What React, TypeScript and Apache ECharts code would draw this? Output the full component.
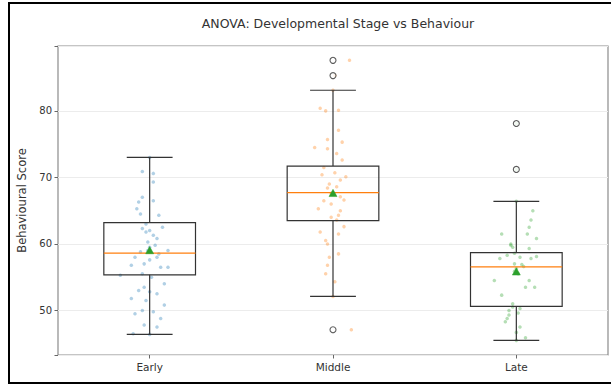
import React, { useEffect, useRef } from "react";
import * as echarts from "echarts";

const categories = ["Early", "Middle", "Late"];
const yTicks = [50, 60, 70, 80];

// box statistics: [min whisker, Q1, median, Q3, max whisker, mean]
const earlyStats = [46.4, 55.35, 58.6, 63.2, 73.0, 59.0];
const middleStats = [52.1, 63.5, 67.7, 71.7, 83.1, 67.6];
const lateStats = [45.5, 50.6, 56.55, 58.7, 66.4, 55.8];

// outliers: [category position, value]
const outliers = [
  [2, 87.6],
  [2, 85.3],
  [2, 47.1],
  [3, 78.1],
  [3, 71.2],
];

// jittered observations: [horizontal jitter, value]
const earlyPoints = [
  [-0.04, 70.9], [0.02, 70.6], [0.02, 69.3], [-0.04, 67.0], [-0.06, 66.3],
  [-0.07, 65.3], [-0.05, 64.5], [0.05, 64.3], [-0.04, 62.3], [0.0, 62.0],
  [0.02, 61.3], [0.04, 60.8], [0.0, 59.5], [-0.01, 59.0], [-0.08, 58.0],
  [0.04, 58.0], [0.1, 59.0], [-0.1, 56.8], [-0.03, 57.0], [0.06, 56.5],
  [0.1, 56.5], [-0.04, 55.5], [-0.16, 55.3], [-0.03, 53.5], [0.08, 54.0],
  [0.0, 52.8], [0.04, 52.5], [-0.1, 51.8], [0.08, 50.8], [-0.02, 51.5],
  [-0.04, 50.0], [-0.08, 49.5], [0.02, 49.8], [-0.03, 47.8], [0.04, 47.5],
  [-0.09, 46.5], [-0.02, 61.8], [0.03, 59.8], [-0.01, 60.3], [0.05, 58.5],
  [-0.05, 58.8], [0.0, 57.6], [0.07, 62.5], [-0.02, 63.0], [0.02, 66.5],
  [0.01, 55.0], [-0.06, 53.0], [0.06, 48.8], [0.0, 73.0], [0.0, 46.4],
];
const middlePoints = [
  [0.09, 87.6], [0.01, 85.3], [0.1, 47.1], [0.0, 83.1], [-0.07, 80.4],
  [-0.04, 80.0], [0.03, 80.1], [0.03, 77.1], [-0.03, 75.7], [-0.1, 74.5],
  [-0.03, 74.3], [0.05, 75.3], [0.02, 73.6], [0.05, 72.6], [-0.06, 70.4],
  [0.01, 70.7], [0.07, 70.1], [-0.03, 68.4], [0.02, 68.6], [0.04, 69.6],
  [-0.01, 67.6], [0.04, 67.1], [-0.05, 66.5], [-0.01, 66.0], [0.06, 66.6],
  [-0.08, 65.3], [0.04, 65.0], [0.03, 64.3], [-0.01, 64.0], [-0.07, 61.8],
  [0.03, 61.5], [-0.04, 60.5], [-0.03, 60.0], [0.03, 58.5], [-0.02, 58.0],
  [-0.03, 56.8], [-0.04, 55.5], [0.0, 52.1], [0.02, 63.6], [-0.05, 71.5],
  [0.06, 62.6], [-0.02, 69.0], [0.01, 54.3],
];
const latePoints = [
  [0.0, 78.1], [0.0, 71.2], [0.0, 66.4], [0.09, 65.0], [0.08, 63.6],
  [0.07, 62.5], [0.06, 61.5], [-0.08, 61.5], [0.11, 60.8], [-0.03, 60.0],
  [-0.02, 59.5], [0.07, 59.3], [-0.05, 58.3], [0.02, 58.0], [-0.09, 57.8],
  [0.08, 57.8], [0.11, 58.1], [-0.01, 57.0], [0.03, 56.9], [0.0, 56.3],
  [-0.01, 55.9], [0.01, 55.5], [0.07, 54.5], [-0.12, 54.5], [0.05, 53.5],
  [0.1, 53.5], [-0.08, 52.3], [-0.02, 50.5], [0.02, 50.3], [-0.04, 50.0],
  [-0.04, 49.3], [-0.05, 48.8], [-0.06, 48.3], [0.02, 47.5], [0.0, 46.7],
  [0.05, 45.9], [0.0, 45.5], [-0.03, 59.8], [0.04, 56.6], [-0.02, 51.0],
  [0.01, 49.6], [-0.01, 58.6],
];

const groupColors = ["#1f77b4", "#ff7f0e", "#2ca02c"];

export default function App() {
  const ref = useRef<HTMLDivElement>(null);

  useEffect(() => {
    if (!ref.current) return;
    const chart = echarts.init(ref.current, undefined, { renderer: "svg" });
    const allStats = [earlyStats, middleStats, lateStats];
    const boxData = allStats.map((s, i) => [i + 1, ...s]);
    const pointSets = [earlyPoints, middlePoints, latePoints];

    const stripSeries = pointSets.map((pts, i) => ({
      type: "scatter",
      xAxisIndex: 1,
      yAxisIndex: 0,
      symbol: "circle",
      symbolSize: 3.5,
      z: 2,
      itemStyle: { color: groupColors[i], opacity: 0.35 },
      data: pts.map((p) => [i + 1 + p[0], p[1]]),
    }));

    const option: any = {
      animation: false,
      backgroundColor: "#ffffff",
      title: {
        text: "ANOVA: Developmental Stage vs Behaviour",
        left: 333,
        textAlign: "center",
        top: 12,
        textStyle: {
          fontFamily: "DejaVu Sans",
          fontSize: 12.5,
          fontWeight: "normal",
          color: "#333",
        },
      },
      grid: {
        left: 58,
        right: 3,
        top: 46,
        bottom: 30,
        show: true,
        borderColor: "#8c8c8c",
        borderWidth: 1.2,
        backgroundColor: "transparent",
      },
      xAxis: [
        {
          type: "category",
          data: categories,
          boundaryGap: true,
          axisLine: { show: false },
          axisTick: {
            show: true,
            alignWithLabel: true,
            length: 3.5,
            lineStyle: { color: "#666" },
          },
          axisLabel: {
            fontFamily: "DejaVu Sans",
            fontSize: 10.5,
            color: "#333",
            margin: 6,
          },
          splitLine: { show: false },
        },
        {
          type: "value",
          min: 0.5,
          max: 3.5,
          show: false,
          splitLine: { show: false },
        },
      ],
      yAxis: {
        type: "value",
        min: 43.3,
        max: 89.75,
        name: "Behavioural Score",
        nameLocation: "middle",
        nameGap: 25,
        nameTextStyle: {
          fontFamily: "DejaVu Sans",
          fontSize: 11.5,
          color: "#333",
        },
        axisLine: { show: false },
        axisTick: { show: true, length: 3.5, lineStyle: { color: "#666" } },
        axisLabel: {
          fontFamily: "DejaVu Sans",
          fontSize: 10,
          color: "#333",
          margin: 6,
          formatter: (v: number) => (yTicks.includes(Math.round(v * 100) / 100) ? String(v) : ""),
        },
        splitLine: { show: true, lineStyle: { color: "#ececec", width: 1 } },
      },
      series: [
        ...stripSeries,
        {
          type: "custom",
          xAxisIndex: 1,
          yAxisIndex: 0,
          z: 5,
          data: boxData,
          encode: { x: 0, y: [1, 2, 3, 4, 5, 6] },
          renderItem: (params: any, api: any) => {
            const x = api.value(0);
            const halfBox = api.size([0.25, 0])[0];
            const halfCap = api.size([0.125, 0])[0];
            const c = (v: number) => api.coord([x, v]);
            const pMin = c(api.value(1));
            const pQ1 = c(api.value(2));
            const pMed = c(api.value(3));
            const pQ3 = c(api.value(4));
            const pMax = c(api.value(5));
            const pMean = c(api.value(6));
            const cx = pMed[0];
            const stroke = { stroke: "#333", lineWidth: 1.2, fill: "none" };
            const tri = 4;
            return {
              type: "group",
              children: [
                {
                  type: "line",
                  shape: { x1: cx, y1: pQ1[1], x2: cx, y2: pMin[1] },
                  style: stroke,
                },
                {
                  type: "line",
                  shape: { x1: cx, y1: pQ3[1], x2: cx, y2: pMax[1] },
                  style: stroke,
                },
                {
                  type: "line",
                  shape: { x1: cx - halfCap, y1: pMin[1], x2: cx + halfCap, y2: pMin[1] },
                  style: stroke,
                },
                {
                  type: "line",
                  shape: { x1: cx - halfCap, y1: pMax[1], x2: cx + halfCap, y2: pMax[1] },
                  style: stroke,
                },
                {
                  type: "rect",
                  shape: {
                    x: cx - halfBox,
                    y: pQ3[1],
                    width: halfBox * 2,
                    height: pQ1[1] - pQ3[1],
                  },
                  style: stroke,
                },
                {
                  type: "line",
                  shape: { x1: cx - halfBox, y1: pMed[1], x2: cx + halfBox, y2: pMed[1] },
                  style: { stroke: "#ff7f0e", lineWidth: 1.2 },
                },
                {
                  type: "polygon",
                  shape: {
                    points: [
                      [pMean[0], pMean[1] - tri],
                      [pMean[0] - tri, pMean[1] + tri * 0.8],
                      [pMean[0] + tri, pMean[1] + tri * 0.8],
                    ],
                  },
                  style: { fill: "#2ca02c", stroke: "#2ca02c", lineWidth: 0.5 },
                },
              ],
            };
          },
        },
        {
          type: "scatter",
          xAxisIndex: 1,
          yAxisIndex: 0,
          z: 6,
          symbol: "circle",
          symbolSize: 6,
          itemStyle: { color: "#ffffff", borderColor: "#333", borderWidth: 1.1 },
          data: outliers,
        },
      ],
    };
    chart.setOption(option);
    return () => chart.dispose();
  }, []);

  return (
    <div
      style={{
        position: "fixed",
        left: 0,
        top: 0,
        width: 611,
        height: 385,
        background: "#fff",
        overflow: "hidden",
      }}
    >
      <div ref={ref} style={{ position: "absolute", left: 0, top: 0, width: 611, height: 385 }} />
      <div style={{ position: "absolute", left: 8, top: 2, width: 2, height: 382, background: "#000" }} />
      <div style={{ position: "absolute", left: 8, top: 2, width: 603, height: 2, background: "#000" }} />
      <div style={{ position: "absolute", left: 8, top: 382, width: 603, height: 2, background: "#000" }} />
    </div>
  );
}
